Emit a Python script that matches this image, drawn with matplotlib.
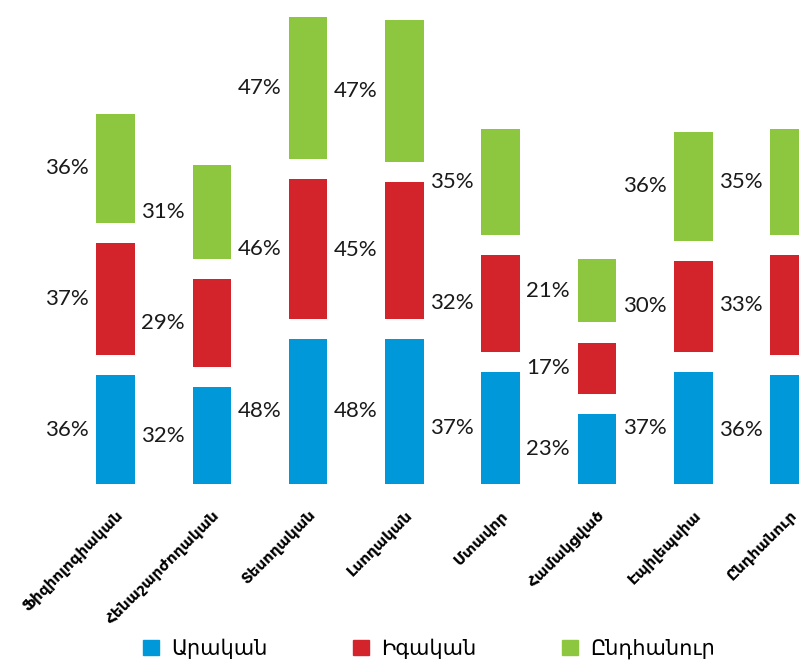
import matplotlib
matplotlib.use("Agg")
import matplotlib.pyplot as plt
from matplotlib.patches import Patch

categories = ["Ֆիզիոլոգիական", "Հենաշարժողական", "Տեսողական", "Լսողական",
              "Մտավոր", "Համակցված", "Էպիլեպսիա", "Ընդհանուր"]
male = [36, 32, 48, 48, 37, 23, 37, 36]
female = [37, 29, 46, 45, 32, 17, 30, 33]
total = [36, 31, 47, 47, 35, 21, 36, 35]

series_names = ["Արական", "Իգական", "Ընդհանուր"]
colors = ["#0098d8", "#d3232b", "#8dc63f"]

GAP = 6.7          # white space between stacked segments
WIDTH = 0.4

plt.rcParams["font.family"] = ["Lato", "DejaVu Sans"]

fig = plt.figure(figsize=(7.99, 6.70), dpi=100)
ax = fig.add_axes([0, 186 / 670, 1, 484 / 670])
ax.set_xlim(-1.2, 7.097)
ax.set_ylim(0, 160)

bottoms = [0.0] * len(categories)
for values, color in zip([male, female, total], colors):
    for i, v in enumerate(values):
        ax.bar(i, v, width=WIDTH, bottom=bottoms[i], color=color)
        ax.text(i - WIDTH / 2 - 0.08, bottoms[i] + v / 2, f"{v}%",
                ha="right", va="center", fontsize=16, color="#1a1a1a")
        bottoms[i] += v + GAP

ax.set_xticks(range(len(categories)))
ax.set_xticklabels(categories, rotation=45, ha="right", va="top",
                   rotation_mode="anchor", fontsize=11, fontweight="bold",
                   family="DejaVu Sans")
ax.tick_params(axis="x", length=0, pad=17)
ax.set_yticks([])
for side in ax.spines.values():
    side.set_visible(False)

handles = [Patch(color=c, label=n) for n, c in zip(series_names, colors)]
fig.legend(handles=handles, loc="lower center", bbox_to_anchor=(0.537, -0.012),
           ncol=3, frameon=False, handlelength=0.75,
           handleheight=0.75, handletextpad=0.6, columnspacing=4.1,
           prop={"family": "DejaVu Sans", "size": 15})

fig.savefig("out.png", dpi=100)
